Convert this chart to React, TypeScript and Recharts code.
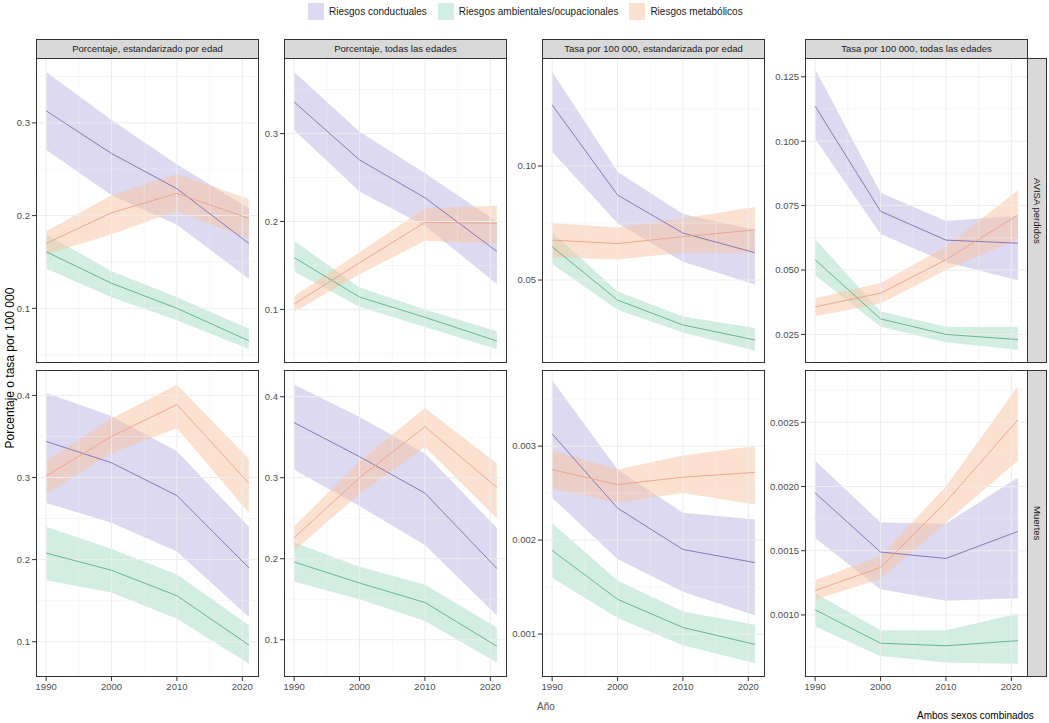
import { ComposedChart, Area, Line, XAxis, YAxis, ReferenceLine } from "recharts";

// years with estimates; x ticks
const YEARS = [1990, 2000, 2010, 2021];
const X_TICKS = [1990, 2000, 2010, 2020];
const X_MINOR = [1995, 2005, 2015];

const SERIES_NAMES = [
  "Riesgos conductuales",
  "Riesgos ambientales/ocupacionales",
  "Riesgos metabólicos",
];
const COLUMN_LABELS = [
  "Porcentaje, estandarizado por edad",
  "Porcentaje, todas las edades",
  "Tasa por 100 000, estandarizada por edad",
  "Tasa por 100 000, todas las edades",
];
const ROW_LABELS = ["AVISA perdidos", "Muertes"];

// each entry per year: [estimate, lower, upper]
// AVISA perdidos
const avisaPctStdCond = [[0.313, 0.271, 0.355], [0.267, 0.222, 0.303], [0.229, 0.19, 0.255], [0.17, 0.132, 0.208]];
const avisaPctStdAmb = [[0.161, 0.143, 0.18], [0.127, 0.112, 0.14], [0.1, 0.087, 0.112], [0.065, 0.056, 0.078]];
const avisaPctStdMet = [[0.17, 0.158, 0.183], [0.203, 0.18, 0.222], [0.224, 0.205, 0.245], [0.197, 0.175, 0.218]];

const avisaPctAllCond = [[0.336, 0.304, 0.37], [0.27, 0.234, 0.302], [0.227, 0.195, 0.255], [0.166, 0.129, 0.2]];
const avisaPctAllAmb = [[0.159, 0.143, 0.178], [0.114, 0.103, 0.125], [0.091, 0.08, 0.1], [0.064, 0.055, 0.075]];
const avisaPctAllMet = [[0.106, 0.097, 0.115], [0.153, 0.14, 0.165], [0.199, 0.178, 0.215], [0.198, 0.175, 0.218]];

const avisaRateStdCond = [[0.1268, 0.1063, 0.1414], [0.0873, 0.0749, 0.0975], [0.0706, 0.058, 0.079], [0.062, 0.048, 0.072]];
const avisaRateStdAmb = [[0.0646, 0.057, 0.071], [0.0412, 0.037, 0.045], [0.0303, 0.027, 0.034], [0.0237, 0.019, 0.029]];
const avisaRateStdMet = [[0.0675, 0.06, 0.075], [0.066, 0.059, 0.073], [0.069, 0.062, 0.077], [0.072, 0.062, 0.082]];

const avisaRateAllCond = [[0.1136, 0.101, 0.128], [0.0728, 0.064, 0.08], [0.0616, 0.053, 0.069], [0.0604, 0.046, 0.071]];
const avisaRateAllAmb = [[0.054, 0.048, 0.062], [0.031, 0.028, 0.034], [0.025, 0.022, 0.028], [0.023, 0.019, 0.028]];
const avisaRateAllMet = [[0.0357, 0.032, 0.039], [0.041, 0.037, 0.045], [0.054, 0.05, 0.059], [0.0713, 0.062, 0.081]];

// Muertes
const muertesPctStdCond = [[0.344, 0.269, 0.403], [0.318, 0.245, 0.375], [0.278, 0.21, 0.332], [0.19, 0.13, 0.24]];
const muertesPctStdAmb = [[0.208, 0.175, 0.24], [0.187, 0.16, 0.213], [0.156, 0.128, 0.182], [0.096, 0.073, 0.12]];
const muertesPctStdMet = [[0.302, 0.28, 0.32], [0.35, 0.33, 0.372], [0.389, 0.36, 0.413], [0.293, 0.257, 0.323]];

const muertesPctAllCond = [[0.368, 0.31, 0.415], [0.326, 0.265, 0.375], [0.281, 0.217, 0.33], [0.188, 0.13, 0.238]];
const muertesPctAllAmb = [[0.196, 0.172, 0.22], [0.17, 0.15, 0.19], [0.146, 0.123, 0.168], [0.092, 0.072, 0.115]];
const muertesPctAllMet = [[0.226, 0.21, 0.24], [0.3, 0.28, 0.32], [0.363, 0.338, 0.386], [0.288, 0.25, 0.318]];

const muertesRateStdCond = [[0.00313, 0.00245, 0.0037], [0.00234, 0.0018, 0.00275], [0.0019, 0.00145, 0.00229], [0.00176, 0.0012, 0.00222]];
const muertesRateStdAmb = [[0.00189, 0.0016, 0.00218], [0.00137, 0.00117, 0.00157], [0.00107, 0.00088, 0.00124], [0.00089, 0.00069, 0.0011]];
const muertesRateStdMet = [[0.00275, 0.00255, 0.00295], [0.00259, 0.0024, 0.00275], [0.00267, 0.0025, 0.0029], [0.00272, 0.00238, 0.003]];

const muertesRateAllCond = [[0.00195, 0.0016, 0.0022], [0.00149, 0.0012, 0.00172], [0.00144, 0.00111, 0.00171], [0.00165, 0.00113, 0.00207]];
const muertesRateAllAmb = [[0.00104, 0.00091, 0.00117], [0.00078, 0.00068, 0.00088], [0.00076, 0.00063, 0.00088], [0.0008, 0.00062, 0.00101]];
const muertesRateAllMet = [[0.00119, 0.00112, 0.00127], [0.00137, 0.00128, 0.00146], [0.00188, 0.00172, 0.002], [0.00252, 0.0022, 0.00278]];

const SERIES_STYLE = [
  { line: "#7b72b3", fill: "#b9b3e1" },
  { line: "#5dae8e", fill: "#a6dcc3" },
  { line: "#eda386", fill: "#fcc3a1" },
];

type Panel = {
  series: number[][][];
  domain: [number, number];
  ticks: number[];
  minor: number[];
  digits: number;
};

const PANELS: Panel[][] = [
  [
    { series: [avisaPctStdCond, avisaPctStdAmb, avisaPctStdMet], domain: [0.041, 0.37], ticks: [0.1, 0.2, 0.3], minor: [0.05, 0.15, 0.25, 0.35], digits: 1 },
    { series: [avisaPctAllCond, avisaPctAllAmb, avisaPctAllMet], domain: [0.039, 0.386], ticks: [0.1, 0.2, 0.3], minor: [0.05, 0.15, 0.25, 0.35], digits: 1 },
    { series: [avisaRateStdCond, avisaRateStdAmb, avisaRateStdMet], domain: [0.0136, 0.1474], ticks: [0.05, 0.1], minor: [0.025, 0.075, 0.125], digits: 2 },
    { series: [avisaRateAllCond, avisaRateAllAmb, avisaRateAllMet], domain: [0.0139, 0.1323], ticks: [0.025, 0.05, 0.075, 0.1, 0.125], minor: [0.0375, 0.0625, 0.0875, 0.1125], digits: 3 },
  ],
  [
    { series: [muertesPctStdCond, muertesPctStdAmb, muertesPctStdMet], domain: [0.057, 0.431], ticks: [0.1, 0.2, 0.3, 0.4], minor: [0.15, 0.25, 0.35], digits: 1 },
    { series: [muertesPctAllCond, muertesPctAllAmb, muertesPctAllMet], domain: [0.054, 0.433], ticks: [0.1, 0.2, 0.3, 0.4], minor: [0.15, 0.25, 0.35], digits: 1 },
    { series: [muertesRateStdCond, muertesRateStdAmb, muertesRateStdMet], domain: [0.000543, 0.00381], ticks: [0.001, 0.002, 0.003], minor: [0.0015, 0.0025, 0.0035], digits: 3 },
    { series: [muertesRateAllCond, muertesRateAllAmb, muertesRateAllMet], domain: [0.000517, 0.002907], ticks: [0.001, 0.0015, 0.002, 0.0025], minor: [0.00075, 0.00125, 0.00175, 0.00225, 0.00275], digits: 4 },
  ],
];

// layout
const PLOT_X = [36, 284, 542, 805];
const PLOT_W = 223;
const PLOT_Y = [58, 370];
const PLOT_H = [305, 307];
const Y_W = 36;
const X_H = 22;
const X_DOMAIN: [number, number] = [1988.45, 2022.55];
const GRID = "#ededed";
const INK = "#333333";
const FONT = "'Liberation Sans', Arial, Helvetica, sans-serif";

function buildRows(series: number[][][]) {
  return YEARS.map((year, i) => {
    const row: Record<string, any> = { year };
    series.forEach((s, k) => {
      row[`v${k}`] = s[i][0];
      row[`r${k}`] = [s[i][1], s[i][2]];
    });
    return row;
  });
}

function FacetPanel({ cfg, row, col }: { cfg: Panel; row: number; col: number }) {
  const w = Y_W + PLOT_W;
  const showX = row === 1;
  const h = PLOT_H[row] + (showX ? X_H : 0);
  const data = buildRows(cfg.series);
  return (
    <div style={{ position: "absolute", left: PLOT_X[col] - Y_W, top: PLOT_Y[row], width: w, height: h }}>
      <ComposedChart width={w} height={h} data={data} margin={{ top: 0, right: 0, bottom: 0, left: 0 }}>
        <XAxis
          dataKey="year"
          type="number"
          domain={X_DOMAIN}
          ticks={X_TICKS}
          allowDataOverflow
          hide={!showX}
          height={X_H}
          axisLine={false}
          tickLine={{ stroke: INK }}
          tickSize={4}
          tickMargin={2}
          tick={{ fontSize: 9.5, fill: "#4d4d4d", fontFamily: FONT }}
        />
        <YAxis
          type="number"
          domain={cfg.domain}
          ticks={cfg.ticks}
          allowDataOverflow
          width={Y_W}
          axisLine={false}
          tickLine={{ stroke: INK }}
          tickSize={4}
          tickMargin={2}
          tick={{ fontSize: 9.5, fill: "#4d4d4d", fontFamily: FONT }}
          tickFormatter={(v: number) => v.toFixed(cfg.digits)}
        />
        {X_MINOR.map((x) => (
          <ReferenceLine key={`xm${x}`} x={x} stroke={GRID} strokeWidth={0.5} ifOverflow="hidden" />
        ))}
        {cfg.minor.map((y) => (
          <ReferenceLine key={`ym${y}`} y={y} stroke={GRID} strokeWidth={0.5} ifOverflow="hidden" />
        ))}
        {X_TICKS.map((x) => (
          <ReferenceLine key={`x${x}`} x={x} stroke={GRID} strokeWidth={1} />
        ))}
        {cfg.ticks.map((y) => (
          <ReferenceLine key={`y${y}`} y={y} stroke={GRID} strokeWidth={1} />
        ))}
        {SERIES_STYLE.map((s, k) => (
          <Area
            key={`a${k}`}
            type="linear"
            dataKey={`r${k}`}
            name={SERIES_NAMES[k]}
            stroke="none"
            fill={s.fill}
            fillOpacity={0.5}
            dot={false}
            activeDot={false}
            isAnimationActive={false}
          />
        ))}
        {SERIES_STYLE.map((s, k) => (
          <Line
            key={`l${k}`}
            type="linear"
            dataKey={`v${k}`}
            name={SERIES_NAMES[k]}
            stroke={s.line}
            strokeWidth={0.9}
            dot={false}
            activeDot={false}
            isAnimationActive={false}
          />
        ))}
      </ComposedChart>
      <div
        style={{
          position: "absolute",
          left: Y_W,
          top: 0,
          width: PLOT_W,
          height: PLOT_H[row],
          border: `1px solid ${INK}`,
          boxSizing: "border-box",
          pointerEvents: "none",
        }}
      />
    </div>
  );
}

export default function App() {
  return (
    <div
      style={{
        position: "absolute",
        left: 0,
        top: 0,
        width: 1049,
        height: 723,
        background: "#fff",
        fontFamily: FONT,
        color: "#1a1a1a",
        overflow: "hidden",
      }}
    >
      {/* legend */}
      <div style={{ position: "absolute", top: 3, left: 308, display: "flex", alignItems: "center", fontSize: 10 }}>
        {SERIES_NAMES.map((name, k) => (
          <div key={name} style={{ display: "flex", alignItems: "center", marginRight: 11 }}>
            <div style={{ width: 16, height: 17, background: SERIES_STYLE[k].fill, opacity: 0.5, marginRight: 5 }} />
            <span>{name}</span>
          </div>
        ))}
      </div>

      {/* column strips */}
      {COLUMN_LABELS.map((label, c) => (
        <div
          key={label}
          style={{
            position: "absolute",
            left: PLOT_X[c],
            top: 39,
            width: PLOT_W,
            height: 20,
            background: "#d9d9d9",
            border: `1px solid ${INK}`,
            boxSizing: "border-box",
            fontSize: 9.5,
            lineHeight: "18px",
            textAlign: "center",
          }}
        >
          {label}
        </div>
      ))}

      {/* row strips */}
      {ROW_LABELS.map((label, r) => (
        <div
          key={label}
          style={{
            position: "absolute",
            left: PLOT_X[3] + PLOT_W - 1,
            top: PLOT_Y[r],
            width: 20,
            height: PLOT_H[r],
            background: "#d9d9d9",
            border: `1px solid ${INK}`,
            boxSizing: "border-box",
            fontSize: 9.5,
            display: "flex",
            alignItems: "center",
            justifyContent: "center",
          }}
        >
          <span style={{ writingMode: "vertical-rl" }}>{label}</span>
        </div>
      ))}

      {PANELS.map((rowPanels, r) =>
        rowPanels.map((cfg, c) => <FacetPanel key={`${r}-${c}`} cfg={cfg} row={r} col={c} />)
      )}

      {/* axis titles */}
      <div
        style={{
          position: "absolute",
          left: 10,
          top: 368,
          transform: "translate(-50%, -50%) rotate(-90deg)",
          whiteSpace: "nowrap",
          fontSize: 12,
          color: "#000",
        }}
      >
        Porcentaje o tasa por 100 000
      </div>
      <div style={{ position: "absolute", left: 537, top: 701, fontSize: 10, color: "#555" }}>Año</div>
      <div style={{ position: "absolute", left: 917, top: 710, fontSize: 10, color: "#000" }}>Ambos sexos combinados</div>
    </div>
  );
}
